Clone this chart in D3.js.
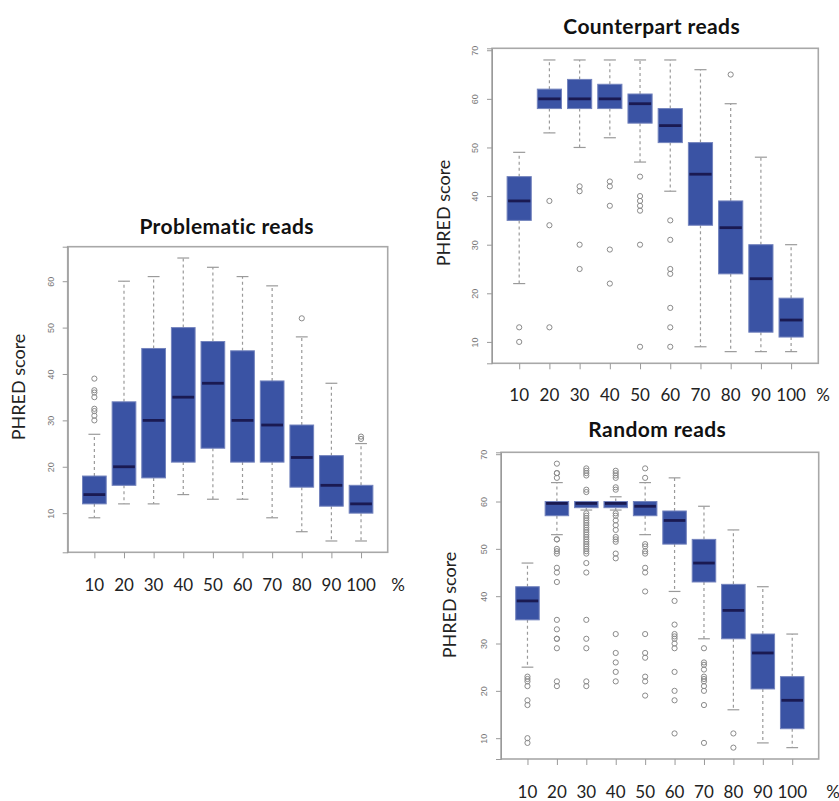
<!DOCTYPE html>
<html>
<head>
<meta charset="utf-8">
<script src="https://cdn.jsdelivr.net/npm/d3@7"></script>
<style>
body { margin: 0; background: #fff; }
svg text { font-family: Lato, "Open Sans", sans-serif; }
</style>
</head>
<body>
<div id="chart"></div>
<script>

// x categories (% of read length)
var categories = ["10", "20", "30", "40", "50", "60", "70", "80", "90", "100"];

// Problematic reads
var probLow  = [9, 12, 12, 14, 13, 13, 9, 6, 4, 4];
var probQ1   = [12, 16, 17.6, 21, 24, 21, 21, 15.6, 11.5, 10];
var probMed  = [14, 20, 30, 35, 38, 30, 29, 22, 16, 12];
var probQ3   = [18, 34, 45.5, 50, 47, 45, 38.5, 29, 22.4, 16];
var probHigh = [27, 60, 61, 65, 63, 61, 59, 48, 38, 25];
var probOut  = [[39, 36.5, 36, 35, 32.5, 32, 31, 30], [], [], [], [], [], [], [52], [], [26.5, 26]];

// Counterpart reads
var cpLow  = [22, 53, 50, 52, 47, 41, 9, 8, 8, 8];
var cpQ1   = [35, 58, 58, 58, 55, 51, 34, 24, 12, 11];
var cpMed  = [39, 60, 60, 60, 59, 54.5, 44.5, 33.5, 23, 14.5];
var cpQ3   = [44, 62, 64, 63, 61, 58, 51, 39, 30, 19];
var cpHigh = [49, 68, 68, 68, 68, 68, 66, 59, 48, 30];
var cpOut  = [[13, 10], [39, 34, 13], [42, 41, 30, 25], [43, 42, 38, 29, 22],
              [44, 40, 39, 38, 37, 30, 9], [35, 31, 25, 24, 17, 13, 9], [], [65], [], []];

// Random reads
var rndLow  = [25, 53, 58.2, 58.2, 53, 41, 31, 16, 9, 8];
var rndQ1   = [35, 57, 58.7, 58.7, 57, 51, 43, 31, 20.4, 12];
var rndMed  = [39, 59.6, 59.6, 59.6, 59, 56, 47, 37, 28, 18];
var rndQ3   = [42, 60, 60, 60, 60, 58, 52, 42.5, 32, 23];
var rndHigh = [47, 64, 60, 61, 64, 65, 59, 54, 42, 32];
var rndOut  = [
    [23, 22.5, 22, 21, 18, 17, 10, 9],
    [68, 66, 66, 65, 52, 52, 50, 49.5, 49, 46, 45, 43, 35, 33, 31, 31, 29, 22, 21],
    [67, 66.5, 66, 65.5, 62.5, 62, 57.5, 57, 56.5, 56, 55.5, 55, 54.5, 54, 53.5, 53, 52.5, 52,
     51.5, 51, 50.5, 50, 49.5, 49, 47, 45, 35, 31, 29, 22, 21],
    [66.5, 66, 65.5, 65, 63, 62.5, 57.5, 57, 56, 55, 54, 52.5, 52, 51.5, 49, 48, 32, 28, 26, 24, 22],
    [67, 65, 51, 50.5, 49.5, 49, 46, 45, 41, 32, 28, 27, 23, 22, 19],
    [39, 34, 32, 31.5, 31, 30, 29, 24, 20, 18, 11],
    [29, 26, 25.5, 24.5, 23, 22.5, 22, 21, 20, 17, 9],
    [11, 8], [], []
];

var probTicks = [10, 20, 30, 40, 50, 60];
var fullTicks = [10, 20, 30, 40, 50, 60, 70];

var svg = d3.select("#chart").append("svg")
    .attr("width", 839)
    .attr("height", 801)
    .style("background", "#fff");

var boxFill = "#3a53a4",
    boxStroke = "#7383bd",
    medColor = "#1a1a52",
    greyLine = "#9a9a9a";

function drawPanel(p) {
    var g = svg.append("g");

    // build box table from the arrays
    var rows = categories.map(function(c, i) {
        return { cat: c, i: i + 1, low: p.low[i], q1: p.q1[i], med: p.med[i],
                 q3: p.q3[i], high: p.high[i], out: p.out[i] };
    });

    // R style: data extent padded by 4%
    var all = [];
    rows.forEach(function(d) { all.push(d.low, d.high); all = all.concat(d.out); });
    var ext = d3.extent(all), pad = (ext[1] - ext[0]) * 0.04;

    var x = d3.scaleLinear().domain([0.1, 10.9]).range([p.left, p.right]);
    var y = d3.scaleLinear().domain([ext[0] - pad, ext[1] + pad]).range([p.bottom, p.top]);

    var half = 0.4, capHalf = 0.2;

    // whiskers
    g.selectAll(".whisk").data(rows).enter().append("g").each(function(d) {
        var w = d3.select(this);
        [[d.q3, d.high], [d.q1, d.low]].forEach(function(s) {
            w.append("line")
                .attr("x1", x(d.i)).attr("x2", x(d.i))
                .attr("y1", y(s[0])).attr("y2", y(s[1]))
                .attr("stroke", greyLine).attr("stroke-width", 1.2)
                .attr("stroke-dasharray", "3,3");
            w.append("line")
                .attr("x1", x(d.i - capHalf)).attr("x2", x(d.i + capHalf))
                .attr("y1", y(s[1])).attr("y2", y(s[1]))
                .attr("stroke", greyLine).attr("stroke-width", 1.2);
        });
    });

    // boxes
    g.selectAll(".box").data(rows).enter().append("rect")
        .attr("x", function(d) { return x(d.i - half); })
        .attr("width", function(d) { return x(d.i + half) - x(d.i - half); })
        .attr("y", function(d) { return y(d.q3); })
        .attr("height", function(d) { return Math.max(1, y(d.q1) - y(d.q3)); })
        .attr("fill", boxFill)
        .attr("stroke", boxStroke)
        .attr("stroke-width", 1);

    // medians
    g.selectAll(".med").data(rows).enter().append("line")
        .attr("x1", function(d) { return x(d.i - half) + 1; })
        .attr("x2", function(d) { return x(d.i + half) - 1; })
        .attr("y1", function(d) { return y(d.med); })
        .attr("y2", function(d) { return y(d.med); })
        .attr("stroke", medColor)
        .attr("stroke-width", 2.8);

    // outliers
    var pts = [];
    rows.forEach(function(d) { d.out.forEach(function(v) { pts.push({ i: d.i, v: v }); }); });
    g.selectAll(".out").data(pts).enter().append("circle")
        .attr("cx", function(d) { return x(d.i); })
        .attr("cy", function(d) { return y(d.v); })
        .attr("r", 2.6)
        .attr("fill", "none")
        .attr("stroke", "#8a8a8a")
        .attr("stroke-width", 1);

    // frame
    g.append("rect")
        .attr("x", p.left).attr("y", p.top)
        .attr("width", p.right - p.left).attr("height", p.bottom - p.top)
        .attr("fill", "none")
        .attr("stroke", "#a8a8a8")
        .attr("stroke-width", 1.6);

    // y axis (ticks and small rotated labels)
    var yAxis = g.append("g")
        .attr("transform", "translate(" + p.left + ",0)")
        .call(d3.axisLeft(y).tickValues(p.ticks).tickSize(5).tickFormat(d3.format("d")));
    yAxis.select(".domain").attr("stroke", greyLine);
    yAxis.selectAll(".tick line").attr("stroke", greyLine);
    yAxis.selectAll(".tick text")
        .attr("x", 0).attr("y", 0).attr("dy", null)
        .attr("transform", "translate(-14,0) rotate(-90)")
        .attr("text-anchor", "middle")
        .attr("fill", "#777")
        .style("font-family", "'Liberation Sans', Arial, sans-serif")
        .style("font-size", "9px");

    // x axis: ticks only, labels drawn larger below
    var xAxis = g.append("g")
        .attr("transform", "translate(0," + p.bottom + ")")
        .call(d3.axisBottom(x).tickValues(d3.range(1, 11)).tickSize(6).tickFormat(""));
    xAxis.select(".domain").remove();
    xAxis.selectAll(".tick line").attr("stroke", greyLine);

    g.selectAll(".cat").data(rows).enter().append("text")
        .attr("x", function(d) { return x(d.i); })
        .attr("y", p.catY)
        .attr("text-anchor", "middle")
        .attr("fill", "#222")
        .style("font-size", "17px")
        .text(function(d) { return d.cat; });

    g.append("text")
        .attr("x", p.pctX).attr("y", p.catY)
        .attr("text-anchor", "middle")
        .attr("fill", "#222")
        .style("font-size", "17px")
        .text("%");

    // title
    g.append("text")
        .attr("x", p.titleX).attr("y", p.titleY)
        .attr("text-anchor", "middle")
        .attr("fill", "#111")
        .style("font-size", "21px")
        .style("font-weight", "bold")
        .style("letter-spacing", "0.4px")
        .text(p.title);

    // y label
    g.append("text")
        .attr("transform", "translate(" + p.ylabX + "," + p.ylabY + ") rotate(-90)")
        .attr("text-anchor", "middle")
        .attr("fill", "#222")
        .style("font-size", "18px")
        .text("PHRED score");
}

drawPanel({
    title: "Problematic reads",
    low: probLow, q1: probQ1, med: probMed, q3: probQ3, high: probHigh, out: probOut,
    ticks: probTicks,
    left: 67.7, right: 387.7, top: 246.7, bottom: 552.3,
    catY: 591, pctX: 398, titleX: 226.7, titleY: 233.5, ylabX: 25, ylabY: 387
});

drawPanel({
    title: "Counterpart reads",
    low: cpLow, q1: cpQ1, med: cpMed, q3: cpQ3, high: cpHigh, out: cpOut,
    ticks: fullTicks,
    left: 492, right: 818.3, top: 48.3, bottom: 363.3,
    catY: 401, pctX: 823, titleX: 651.7, titleY: 33.5, ylabX: 450, ylabY: 213
});

drawPanel({
    title: "Random reads",
    low: rndLow, q1: rndQ1, med: rndMed, q3: rndQ3, high: rndHigh, out: rndOut,
    ticks: fullTicks,
    left: 501, right: 818.7, top: 452.3, bottom: 759,
    catY: 797.5, pctX: 833, titleX: 657.3, titleY: 436.5, ylabX: 456, ylabY: 605
});

</script>
</body>
</html>
